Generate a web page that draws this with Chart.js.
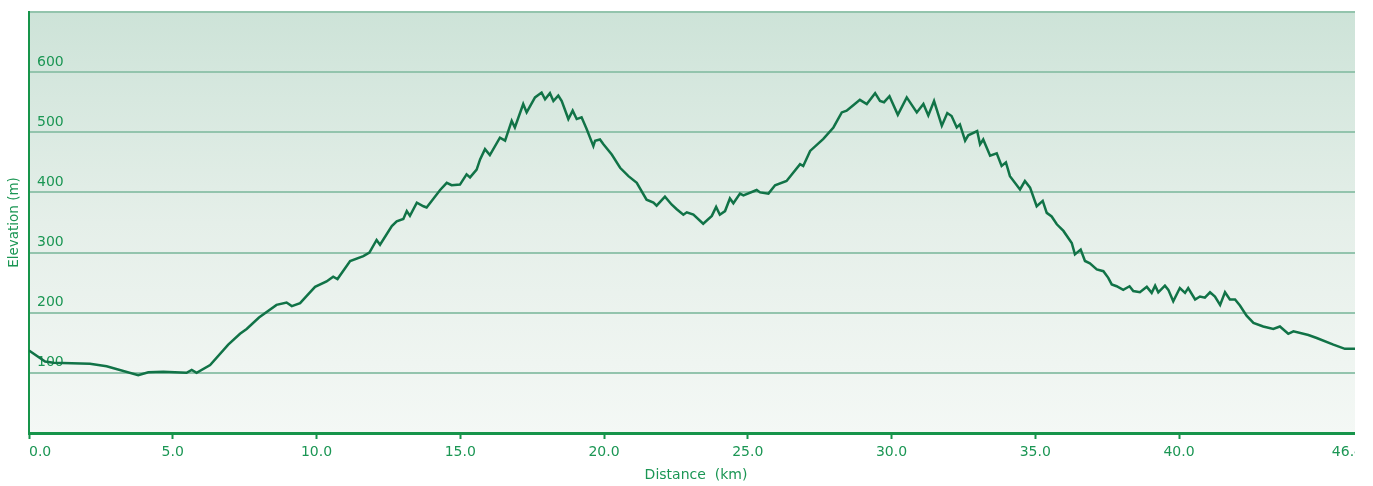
<!DOCTYPE html>
<html>
<head>
<meta charset="utf-8">
<script src="https://cdn.jsdelivr.net/npm/chart.js@4/dist/chart.umd.min.js"></script>
<style>
  html, body { margin: 0; padding: 0; background: #fff; }
  #wrap { width: 1355px; height: 486px; overflow: hidden; }
  canvas { display: block; }
</style>
</head>
<body>
<div id="wrap"><canvas id="chart" width="1373" height="486"></canvas></div>
<script>
// profil altimétrique : distance (km) / altitude (m)
const distanceKm = [
  0.00, 0.56, 0.85, 2.12, 2.70, 3.80, 4.15, 4.67, 5.48, 5.66, 5.83, 6.30, 6.93, 7.34, 7.57, 8.00,
  8.61, 8.96, 9.14, 9.43, 9.66, 9.95, 10.35, 10.58, 10.73, 11.17, 11.63, 11.84, 12.09, 12.21, 12.62, 12.79,
  13.02, 13.14, 13.25, 13.49, 13.72, 13.83, 14.30, 14.53, 14.70, 14.99, 15.22, 15.34, 15.57, 15.69, 15.86, 16.03,
  16.38, 16.56, 16.79, 16.90, 17.19, 17.31, 17.60, 17.83, 17.95, 18.12, 18.24, 18.41, 18.53, 18.76, 18.91, 19.05,
  19.22, 19.40, 19.63, 19.69, 19.86, 19.98, 20.27, 20.56, 20.85, 21.14, 21.48, 21.72, 21.83, 22.12, 22.35, 22.53,
  22.76, 22.88, 23.11, 23.45, 23.75, 23.90, 24.03, 24.21, 24.38, 24.50, 24.73, 24.85, 25.31, 25.43, 25.72, 25.95,
  26.35, 26.82, 26.93, 27.17, 27.63, 27.98, 28.27, 28.44, 28.67, 28.90, 29.14, 29.43, 29.60, 29.74, 29.93, 30.22,
  30.53, 30.88, 31.11, 31.28, 31.48, 31.75, 31.94, 32.09, 32.27, 32.38, 32.56, 32.67, 32.98, 33.08, 33.19, 33.43,
  33.66, 33.83, 33.98, 34.12, 34.47, 34.64, 34.82, 35.05, 35.26, 35.40, 35.57, 35.75, 35.98, 36.27, 36.38, 36.58,
  36.73, 36.90, 37.14, 37.37, 37.54, 37.66, 37.83, 38.06, 38.28, 38.41, 38.64, 38.88, 39.05, 39.17, 39.28, 39.51,
  39.63, 39.80, 40.03, 40.21, 40.32, 40.56, 40.73, 40.90, 41.08, 41.25, 41.43, 41.60, 41.77, 41.95, 42.12, 42.35,
  42.59, 42.93, 43.28, 43.51, 43.80, 43.98, 44.50, 44.79, 45.37, 45.77, 46.12, 46.40
];
const elevationM = [
  137, 119, 117, 115, 111, 96, 101, 102, 100, 105, 100, 113, 147, 165, 173, 192,
  213, 217, 211, 216, 228, 243, 252, 260, 256, 286, 294, 300, 321, 313, 344, 352,
  356, 369, 361, 383, 377, 375, 404, 416, 412, 413, 430, 425, 438, 455, 472, 462,
  491, 486, 519, 508, 547, 533, 558, 566, 555, 565, 552, 561, 552, 522, 536, 522,
  525, 505, 477, 486, 488, 480, 463, 441, 427, 416, 388, 383, 378, 393, 380, 372,
  363, 367, 363, 348, 361, 376, 363, 369, 390, 382, 398, 395, 404, 400, 398, 412,
  419, 447, 444, 469, 489, 508, 533, 536, 545, 554, 547, 565, 552, 550, 560, 529,
  558, 533, 547, 528, 552, 511, 532, 527, 508, 513, 486, 495, 502, 480, 488, 461,
  465, 444, 450, 427, 405, 419, 408, 377, 386, 366, 360, 347, 336, 316, 297, 305,
  286, 282, 272, 269, 258, 247, 244, 238, 244, 236, 234, 243, 233, 245, 234, 245,
  238, 219, 241, 233, 241, 222, 227, 225, 234, 227, 213, 234, 222, 222, 212, 195,
  183, 177, 173, 177, 165, 169, 163, 158, 147, 140, 140, 139
];

const xMax = 46.4;
const xStep = 5;
const yMax = 700;
const yStep = 100;

const green = '#1b9654';
const axisGreen = '#16944a';
const lineGreen = '#117347';
const gridColor = '#93c4ad';
const fontFamily = '"DejaVu Sans", Verdana, sans-serif';

// fond dégradé dans la zone du graphe
const bgPlugin = {
  id: 'bg',
  beforeDraw(chart) {
    const { ctx, chartArea: a } = chart;
    const g = ctx.createLinearGradient(0, a.top, 0, a.bottom);
    g.addColorStop(0, '#cde3d8');
    g.addColorStop(0.5, '#e5efe9');
    g.addColorStop(1, '#f4f8f5');
    ctx.save();
    ctx.fillStyle = g;
    ctx.fillRect(a.left, a.top, a.right - a.left, a.bottom - a.top);
    ctx.restore();
  }
};

const ctx = document.getElementById('chart').getContext('2d');
const chart = new Chart(ctx, {
  type: 'line',
  data: {
    datasets: [{
      label: 'Elevation',
      data: distanceKm.map((d, i) => ({ x: d, y: elevationM[i] })),
      borderColor: lineGreen,
      borderWidth: 2.5,
      pointRadius: 0,
      tension: 0,
      fill: false
    }]
  },
  options: {
    responsive: false,
    animation: false,
    layout: { padding: { top: 12, right: 10, left: 0, bottom: 0 } },
    plugins: { legend: { display: false }, tooltip: { enabled: false } },
    scales: {
      x: {
        type: 'linear',
        min: 0,
        max: xMax,
        afterFit(scale) { scale.height = 53; },
        border: { color: axisGreen, width: 3 },
        grid: { drawOnChartArea: false, drawTicks: true, tickLength: 6, tickColor: axisGreen, tickWidth: 2 },
        ticks: {
          stepSize: xStep,
          align: 'inner',
          autoSkip: false,
          maxRotation: 0,
          padding: 5,
          color: green,
          font: { family: fontFamily, size: 14 },
          callback: v => v.toFixed(1)
        },
        title: {
          display: true,
          text: 'Distance  (km)',
          color: green,
          font: { family: fontFamily, size: 14 },
          padding: { top: 0, bottom: 2 }
        }
      },
      y: {
        min: 0,
        max: yMax,
        afterFit(scale) {
          scale.width = 29;
          scale.paddingTop = 0;
          scale.paddingBottom = 0;
        },
        border: { color: axisGreen, width: 2 },
        grid: { color: gridColor, lineWidth: 2, drawTicks: false },
        ticks: {
          stepSize: yStep,
          mirror: true,
          padding: 8,
          labelOffset: -10,
          color: green,
          font: { family: fontFamily, size: 14 },
          callback: v => (v === 0 || v === yMax) ? '' : v
        },
        title: {
          display: true,
          text: 'Elevation (m)',
          color: green,
          font: { family: fontFamily, size: 13.5 },
          padding: { top: 6, bottom: 0 }
        }
      }
    }
  },
  plugins: [bgPlugin]
});
</script>
</body>
</html>
